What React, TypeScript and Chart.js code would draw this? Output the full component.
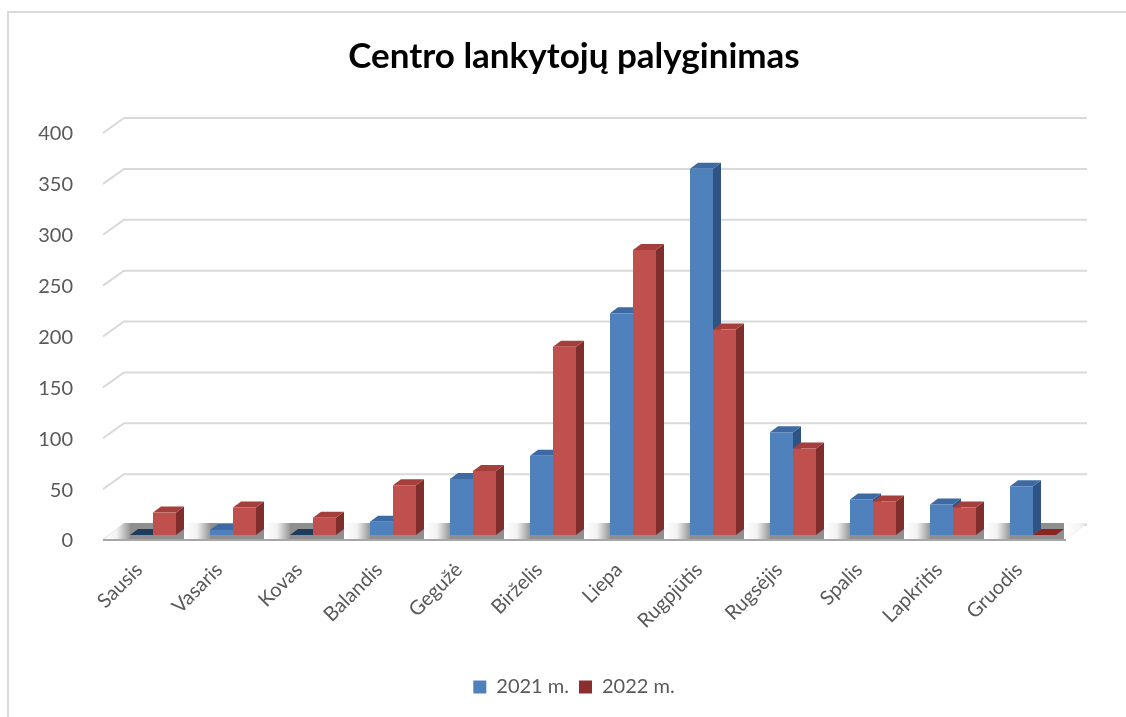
import React, { useEffect, useRef } from "react";
import { Chart, registerables } from "chart.js";

Chart.register(...registerables);

const categories = [
  "Sausis", "Vasaris", "Kovas", "Balandis", "Gegužė", "Birželis",
  "Liepa", "Rugpjūtis", "Rugsėjis", "Spalis", "Lapkritis", "Gruodis",
];
const series2021 = [0, 5, 0, 13, 55, 78, 218, 360, 101, 35, 30, 48];
const series2022 = [22, 27, 17, 49, 63, 185, 280, 202, 85, 33, 27, 0];
const seriesLabels = ["2021 m.", "2022 m."];
const yMin = 0;
const yMax = 400;
const yStep = 50;
const titleText = "Centro lankytojų palyginimas";

const FRONT_COLORS = ["#4f81bd", "#c0504d"];
const TOP_COLORS = ["#3d6aa3", "#a53f3c"];
const SIDE_COLORS = ["#2f5484", "#7e2f2d"];
const ZERO_COLORS = ["#1f3a5f", "#8a2424"];
const LEGEND_COLORS = ["#4f81bd", "#8a2f2d"];

const DX = 8;
const DY = 6;
const FRONT = { dx: -10, dy: 5 };
const BACK = { dx: 11, dy: -10 };
const RIGHT_EXT = 14;

const threeD = {
  id: "threeD",
  beforeDraw(chart: any) {
    const ctx = chart.ctx;
    ctx.save();
    ctx.fillStyle = "#ffffff";
    ctx.fillRect(0, 0, chart.width, chart.height);
    ctx.strokeStyle = "#d9d9d9";
    ctx.lineWidth = 2;
    ctx.beginPath();
    ctx.moveTo(8, chart.height + 5);
    ctx.lineTo(8, 12);
    ctx.lineTo(chart.width + 5, 12);
    ctx.stroke();
    ctx.restore();
  },
  beforeDatasetsDraw(chart: any) {
    const { ctx, chartArea } = chart;
    const y = chart.scales.y;
    const L = chartArea.left;
    const R = chartArea.right;
    ctx.save();
    // gridlines (side wall + back wall)
    ctx.strokeStyle = "#d9d9d9";
    ctx.lineWidth = 2;
    for (const t of y.ticks) {
      const py = y.getPixelForValue(t.value);
      ctx.beginPath();
      ctx.moveTo(L + FRONT.dx, py + FRONT.dy);
      ctx.lineTo(L + BACK.dx, py + BACK.dy);
      ctx.lineTo(R + RIGHT_EXT, py + BACK.dy);
      ctx.stroke();
    }
    // floor
    const base = y.getPixelForValue(0);
    const fx0 = L + FRONT.dx;
    const bx0 = L + BACK.dx;
    const bx1 = R + RIGHT_EXT;
    const fx1 = bx1 - (BACK.dx - FRONT.dx);
    const fy = base + FRONT.dy;
    const by = base + BACK.dy - 2;
    ctx.beginPath();
    ctx.moveTo(fx0, fy);
    ctx.lineTo(bx0, by);
    ctx.lineTo(bx1, by);
    ctx.lineTo(fx1, fy);
    ctx.closePath();
    ctx.fillStyle = "#d0d0d0";
    ctx.fill();
    ctx.save();
    ctx.clip();
    const m0 = chart.getDatasetMeta(0).data;
    const m1 = chart.getDatasetMeta(1).data;
    let gapStart = fx0;
    for (let i = 0; i <= categories.length; i++) {
      const last = i === categories.length;
      const gapEnd = !last ? m0[i].x - m0[i].width / 2 : bx1 + 5;
      const g = ctx.createLinearGradient(gapStart, 0, gapEnd, 0);
      g.addColorStop(0, "#ffffff");
      g.addColorStop(0.5, last ? "#f6f6f6" : "#f2f2f2");
      g.addColorStop(1, last ? "#d9d9d9" : "#979797");
      ctx.fillStyle = g;
      ctx.fillRect(gapStart, by - 2, gapEnd - gapStart, fy - by + 4);
      if (!last) {
        ctx.fillStyle = "#8f8f8f";
        const cr = m1[i].x + m1[i].width / 2 + DX;
        ctx.fillRect(gapEnd, by - 2, cr - gapEnd, fy - by + 4);
        gapStart = cr;
      }
    }
    ctx.restore();
    ctx.strokeStyle = "#a6a6a6";
    ctx.lineWidth = 2;
    ctx.beginPath();
    ctx.moveTo(fx0, fy);
    ctx.lineTo(fx1, fy);
    ctx.stroke();

    // bar side and top faces
    for (let d = 0; d < 2; d++) {
      const meta = chart.getDatasetMeta(d);
      meta.data.forEach((bar: any, i: number) => {
        const p = bar.getProps(["x", "y", "base", "width"], true);
        const left = p.x - p.width / 2;
        const right = p.x + p.width / 2;
        const top = p.y;
        const bottom = p.base;
        const val = chart.data.datasets[d].data[i];
        if (val > 0) {
          ctx.fillStyle = SIDE_COLORS[d];
          ctx.beginPath();
          ctx.moveTo(right, bottom);
          ctx.lineTo(right + DX, bottom - DY);
          ctx.lineTo(right + DX, top - DY);
          ctx.lineTo(right, top);
          ctx.closePath();
          ctx.fill();
        }
        ctx.fillStyle = val > 0 ? TOP_COLORS[d] : ZERO_COLORS[d];
        ctx.beginPath();
        ctx.moveTo(left, top);
        ctx.lineTo(right, top);
        ctx.lineTo(right + DX, top - DY);
        ctx.lineTo(left + DX, top - DY);
        ctx.closePath();
        ctx.fill();
      });
    }
    ctx.restore();
  },
};

export default function App() {
  const ref = useRef<HTMLCanvasElement | null>(null);
  useEffect(() => {
    if (!ref.current) return;
    const chart = new Chart(ref.current, {
      type: "bar",
      data: {
        labels: categories,
        datasets: [
          { label: seriesLabels[0], data: series2021, backgroundColor: FRONT_COLORS[0], borderWidth: 0 },
          { label: seriesLabels[1], data: series2022, backgroundColor: FRONT_COLORS[1], borderWidth: 0 },
        ],
      },
      options: {
        animation: false,
        responsive: false,
        devicePixelRatio: 1,
        layout: { padding: { left: 22, right: 0, top: 0, bottom: 10 } },
        datasets: { bar: { categoryPercentage: 0.575, barPercentage: 1.0 } },
        plugins: {
          title: {
            display: true,
            text: titleText,
            color: "#000000",
            font: { family: "Lato", size: 35, weight: "bold" },
            padding: { top: 36, bottom: 50 },
          },
          legend: {
            position: "bottom",
            labels: {
              boxWidth: 13,
              boxHeight: 13,
              color: "#595959",
              font: { family: "Lato", size: 20 },
              padding: 10,
              generateLabels: (c: any) => {
                const items = Chart.defaults.plugins.legend.labels.generateLabels(c);
                items.forEach((it: any, i: number) => {
                  it.fillStyle = LEGEND_COLORS[i];
                  it.strokeStyle = LEGEND_COLORS[i];
                  it.lineWidth = 0;
                });
                return items;
              },
            },
          },
          tooltip: { enabled: false },
        },
        scales: {
          x: {
            grid: { display: false },
            border: { display: false },
            ticks: {
              color: "#595959",
              font: { family: "Lato", size: 20 },
              minRotation: 45,
              maxRotation: 45,
              labelOffset: -14,
              padding: 15,
            },
            afterFit: (s: any) => { s.height = 132; },
          },
          y: {
            min: yMin,
            max: yMax,
            grid: { display: false },
            border: { display: false },
            ticks: {
              stepSize: yStep,
              color: "#595959",
              font: { family: "Lato", size: 20 },
              padding: 32,
              labelOffset: 6,
            },
            afterFit: (s: any) => { s.width = 91; },
          },
          yRightSpace: {
            type: "linear",
            position: "right",
            display: true,
            grid: { display: false },
            border: { display: false },
            ticks: { display: false },
            afterFit: (s: any) => { s.width = 53; },
          },
        },
      },
      plugins: [threeD],
    });
    return () => chart.destroy();
  }, []);
  return (
    <div style={{ position: "absolute", left: 0, top: 0, width: 1126, height: 717, overflow: "hidden", background: "#fff" }}>
      <canvas ref={ref} width={1126} height={717} style={{ display: "block" }} />
    </div>
  );
}
